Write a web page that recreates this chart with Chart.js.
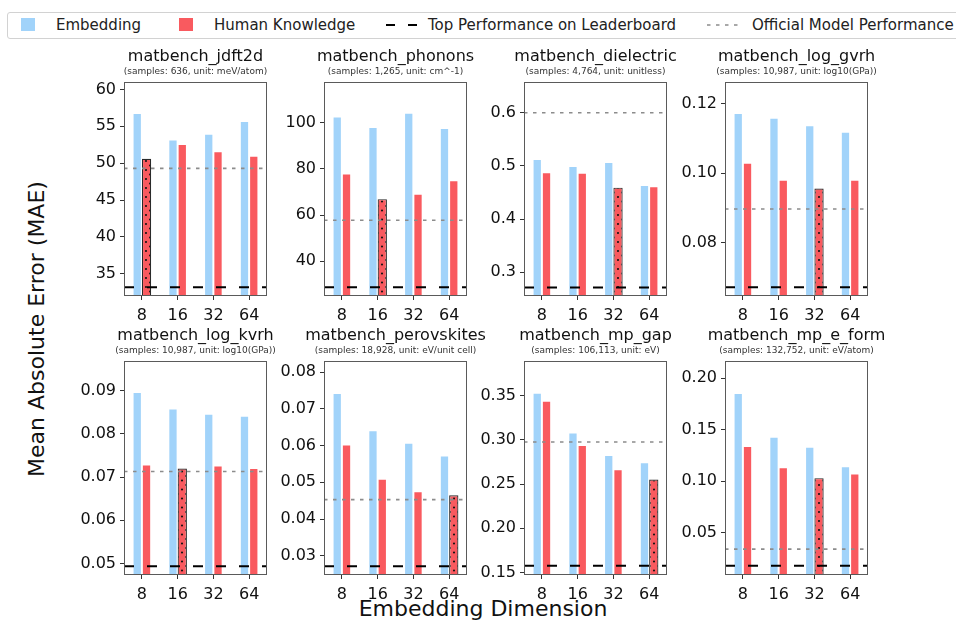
<!DOCTYPE html>
<html>
<head>
<meta charset="utf-8">
<script src="https://cdn.jsdelivr.net/npm/chart.js@4.4.1/dist/chart.umd.min.js"></script>
<style>
  html, body { margin: 0; padding: 0; background: #fff; }
  body { width: 956px; height: 624px; position: relative; overflow: hidden; font-family: 'DejaVu Sans', sans-serif; color: #222; }
  canvas.panel { position: absolute; }
  #legend { position: absolute; left: 7px; top: 12px; width: 1000px; height: 27px; border: 1px solid #d2d2d2; border-radius: 3px; box-sizing: border-box; }
  .lg { position: absolute; top: 0; line-height: 25px; font-size: 15px; white-space: nowrap; color: #222; }
  .patch { position: absolute; top: 5px; width: 14px; height: 13px; }
  .lgline { position: absolute; top: 7px; }
  .axlab { position: absolute; font-size: 22px; white-space: nowrap; color: #111; }
</style>
</head>
<body>
<div id="legend">
  <div class="patch" style="left:13px;background:#a1d3fa;"></div>
  <div class="lg" style="left:48px;">Embedding</div>
  <div class="patch" style="left:171px;background:#f95a5f;"></div>
  <div class="lg" style="left:206px;">Human Knowledge</div>
  <svg class="lgline" style="left:378px;" width="32" height="10"><line x1="0" y1="5" x2="32" y2="5" stroke="#000" stroke-width="2" stroke-dasharray="9,13"/></svg>
  <div class="lg" style="left:420px;">Top Performance on Leaderboard</div>
  <svg class="lgline" style="left:699px;" width="32" height="10"><line x1="0" y1="5" x2="32" y2="5" stroke="#8c8c8c" stroke-width="1.6" stroke-dasharray="3.5,5.5"/></svg>
  <div class="lg" style="left:744px;">Official Model Performance</div>
</div>
<div class="axlab" id="ylab" style="left:36px;top:329px;transform:translate(-50%,-50%) rotate(-90deg);">Mean Absolute Error (MAE)</div>
<div class="axlab" id="xlab" style="left:483px;top:608px;transform:translate(-50%,-50%);">Embedding Dimension</div>

<script>
// data
const dims = ['8', '16', '32', '64'];
const tasks = ['matbench_jdft2d', 'matbench_phonons', 'matbench_dielectric', 'matbench_log_gvrh',
               'matbench_log_kvrh', 'matbench_perovskites', 'matbench_mp_gap', 'matbench_mp_e_form'];
const taskNotes = ['(samples: 636, unit: meV/atom)', '(samples: 1,265, unit: cm^-1)',
                   '(samples: 4,764, unit: unitless)', '(samples: 10,987, unit: log10(GPa))',
                   '(samples: 10,987, unit: log10(GPa))', '(samples: 18,928, unit: eV/unit cell)',
                   '(samples: 106,113, unit: eV)', '(samples: 132,752, unit: eV/atom)'];
const embeddingMAE = [
  [56.8, 53.2, 54.0, 55.7],
  [102.7, 98.1, 104.3, 97.7],
  [0.513, 0.500, 0.5075, 0.464],
  [0.1173, 0.1159, 0.1138, 0.1119],
  [0.0897, 0.0859, 0.0847, 0.0842],
  [0.0743, 0.0642, 0.0608, 0.0573],
  [0.3534, 0.3086, 0.2831, 0.2748],
  [0.1858, 0.1432, 0.1335, 0.1145]
];
const humanMAE = [
  [50.6, 52.6, 51.6, 51.0],
  [78.0, 66.9, 69.2, 75.1],
  [0.488, 0.487, 0.459, 0.4615],
  [0.1030, 0.0981, 0.0956, 0.0981],
  [0.0729, 0.0720, 0.0727, 0.0721],
  [0.0603, 0.0510, 0.0476, 0.0465],
  [0.3444, 0.2944, 0.2669, 0.2553],
  [0.1342, 0.1135, 0.1029, 0.1074]
];
const leaderboardMAE = [33.2, 28.8, 0.271, 0.0672, 0.0493, 0.0272, 0.1575, 0.0177];
const officialMAE = [49.3, 57.8, 0.600, 0.0897, 0.0713, 0.0453, 0.2977, 0.0339];
const yLimits = [[32.0, 61.0], [25.0, 117.6], [0.255, 0.658], [0.0647, 0.1262],
                 [0.0473, 0.0969], [0.0248, 0.0830], [0.147, 0.3895], [0.0087, 0.2168]];
const yTickLabels = [
  ['35', '40', '45', '50', '55', '60'],
  ['40', '60', '80', '100'],
  ['0.3', '0.4', '0.5', '0.6'],
  ['0.08', '0.10', '0.12'],
  ['0.05', '0.06', '0.07', '0.08', '0.09'],
  ['0.03', '0.04', '0.05', '0.06', '0.07', '0.08'],
  ['0.15', '0.20', '0.25', '0.30', '0.35'],
  ['0.05', '0.10', '0.15', '0.20']
];

const BLUE = '#a1d3fa';
const RED = '#f95a5f';
const COL_X = [124, 324, 524, 725];
const ROW_Y = [82, 361];
const BOX_W = 143, BOX_H = 214, AXIS_W = 60, HEAD_H = 40, FOOT_H = 30;

Chart.defaults.font.family = "'DejaVu Sans', sans-serif";
Chart.defaults.color = '#222';

// dotted hatch for the best human-knowledge bar
function dotPattern(ctx) {
  const c = document.createElement('canvas');
  c.width = 8; c.height = 9;
  const p = c.getContext('2d');
  p.fillStyle = RED;
  p.fillRect(0, 0, 8, 9);
  p.fillStyle = '#111';
  [[2, 2], [6, 6.5]].forEach(([x, y]) => {
    p.beginPath(); p.arc(x, y, 1.05, 0, Math.PI * 2); p.fill();
  });
  return ctx.createPattern(c, 'repeat');
}

// reference lines + axes frame
const refLines = {
  id: 'refLines',
  afterDatasetsDraw(chart, args, opts) {
    const { ctx, chartArea: a } = chart;
    const y = chart.scales.y;
    ctx.save();
    ctx.beginPath(); ctx.rect(a.left, a.top, a.width, a.height); ctx.clip();
    const hline = (v, color, width, dash) => {
      const py = y.getPixelForValue(v);
      ctx.beginPath();
      ctx.setLineDash(dash);
      ctx.lineWidth = width;
      ctx.strokeStyle = color;
      ctx.moveTo(a.left, py); ctx.lineTo(a.right, py);
      ctx.stroke();
    };
    hline(opts.official, '#8c8c8c', 1.6, [3.5, 5.5]);
    hline(opts.top, '#000', 2, [10, 13]);
    ctx.restore();
    ctx.save();
    ctx.strokeStyle = '#5a5a5a';
    ctx.lineWidth = 1;
    ctx.strokeRect(a.left + 0.5, a.top + 0.5, a.width - 1, a.height - 1);
    ctx.restore();
  }
};

tasks.forEach((task, i) => {
  const cv = document.createElement('canvas');
  cv.className = 'panel';
  cv.width = AXIS_W * 2 + BOX_W;
  cv.height = HEAD_H + BOX_H + FOOT_H;
  cv.style.left = (COL_X[i % 4] - AXIS_W) + 'px';
  cv.style.top = (ROW_Y[Math.floor(i / 4)] - HEAD_H) + 'px';
  document.body.appendChild(cv);
  const ctx = cv.getContext('2d');

  const hk = humanMAE[i];
  const best = hk.indexOf(Math.min(...hk));
  const hatch = dotPattern(ctx);
  const edge = 'rgba(255,255,255,0.35)';

  new Chart(ctx, {
    type: 'bar',
    data: {
      labels: dims,
      datasets: [{
        label: 'Embedding',
        data: embeddingMAE[i],
        yAxisID: 'y',
        backgroundColor: BLUE,
        borderColor: edge,
        borderWidth: 1,
        borderSkipped: false,
        categoryPercentage: 0.52,
        barPercentage: 1
      }, {
        label: 'Human Knowledge',
        data: hk,
        yAxisID: 'y',
        backgroundColor: hk.map((_, k) => k === best ? hatch : RED),
        borderColor: hk.map((_, k) => k === best ? '#2a2a2a' : edge),
        borderWidth: hk.map((_, k) => k === best ? 1.2 : 1),
        borderSkipped: false,
        categoryPercentage: 0.52,
        barPercentage: 1
      }]
    },
    options: {
      responsive: false,
      animation: false,
      layout: { padding: 0, autoPadding: false },
      plugins: {
        legend: { display: false },
        tooltip: { enabled: false },
        title: {
          display: true, text: task, color: '#111',
          font: { size: 16, weight: 'normal' },
          padding: { top: 5.4, bottom: 0 }
        },
        subtitle: {
          display: true, text: taskNotes[i], color: '#333',
          font: { size: 9, weight: 'normal' },
          padding: { top: 0, bottom: 4.6 }
        },
        refLines: { official: officialMAE[i], top: leaderboardMAE[i] }
      },
      scales: {
        x: {
          grid: { offset: false, drawOnChartArea: false, drawTicks: true, tickLength: 4, color: '#333' },
          border: { display: false },
          ticks: { font: { size: 16 }, color: '#111', padding: 6, maxRotation: 0 },
          afterFit: s => { s.height = FOOT_H; }
        },
        y: {
          min: yLimits[i][0],
          max: yLimits[i][1],
          grid: { drawOnChartArea: false, drawTicks: true, tickLength: 4, color: '#333' },
          border: { display: false },
          ticks: {
            font: { size: 16 }, color: '#111', padding: 4, autoSkip: false,
            callback: (v, idx) => yTickLabels[i][idx]
          },
          afterBuildTicks: s => { s.ticks = yTickLabels[i].map(t => ({ value: parseFloat(t) })); },
          afterFit: s => { s.width = AXIS_W; }
        },
        yR: {
          position: 'right',
          grid: { display: false },
          border: { display: false },
          ticks: { display: false },
          afterFit: s => { s.width = AXIS_W; }
        }
      }
    },
    plugins: [refLines]
  });
});
</script>
</body>
</html>
